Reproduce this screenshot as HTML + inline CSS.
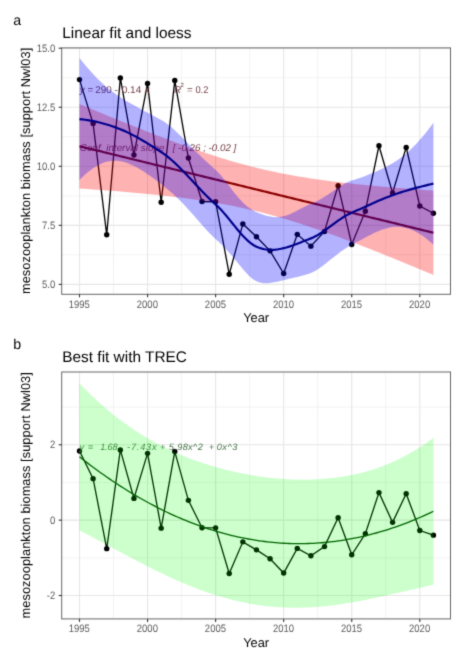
<!DOCTYPE html>
<html><head><meta charset="utf-8"><style>
html,body{margin:0;padding:0;background:#fff;}
svg{display:block;}
text{font-family:"Liberation Sans",sans-serif;text-rendering:geometricPrecision;}
.ax{font-size:10.8px;fill:#5A5A5A;}
.at{font-size:12.8px;fill:#000;}
.ti{font-size:15.4px;fill:#000;}
.tag{font-size:14.2px;fill:#000;}
.an{font-size:9.8px;}
</style></head><body>
<svg width="464" height="662" viewBox="0 0 464 662">
<defs><filter id="bl" x="0" y="0" width="464" height="662" filterUnits="userSpaceOnUse" color-interpolation-filters="sRGB"><feConvolveMatrix order="3" kernelMatrix="0.01917 0.10012 0.01917 0.10012 0.52283 0.10012 0.01917 0.10012 0.01917" divisor="1" edgeMode="duplicate" preserveAlpha="true"/></filter></defs>
<g filter="url(#bl)">
<rect width="464" height="662" fill="#fff"/>
<rect x="61.7" y="48.2" width="388.8" height="246.10000000000002" fill="#fff"/>
<line x1="113.53" x2="113.53" y1="48.2" y2="294.3" stroke="#EBEBEB" stroke-width="0.6"/>
<line x1="181.59" x2="181.59" y1="48.2" y2="294.3" stroke="#EBEBEB" stroke-width="0.6"/>
<line x1="249.65" x2="249.65" y1="48.2" y2="294.3" stroke="#EBEBEB" stroke-width="0.6"/>
<line x1="317.71" x2="317.71" y1="48.2" y2="294.3" stroke="#EBEBEB" stroke-width="0.6"/>
<line x1="385.77" x2="385.77" y1="48.2" y2="294.3" stroke="#EBEBEB" stroke-width="0.6"/>
<line x1="61.7" x2="450.5" y1="77.73" y2="77.73" stroke="#EBEBEB" stroke-width="0.6"/>
<line x1="61.7" x2="450.5" y1="136.78" y2="136.78" stroke="#EBEBEB" stroke-width="0.6"/>
<line x1="61.7" x2="450.5" y1="195.82" y2="195.82" stroke="#EBEBEB" stroke-width="0.6"/>
<line x1="61.7" x2="450.5" y1="254.88" y2="254.88" stroke="#EBEBEB" stroke-width="0.6"/>
<line x1="79.50" x2="79.50" y1="48.2" y2="294.3" stroke="#E6E6E6" stroke-width="1.1"/>
<line x1="147.56" x2="147.56" y1="48.2" y2="294.3" stroke="#E6E6E6" stroke-width="1.1"/>
<line x1="215.62" x2="215.62" y1="48.2" y2="294.3" stroke="#E6E6E6" stroke-width="1.1"/>
<line x1="283.68" x2="283.68" y1="48.2" y2="294.3" stroke="#E6E6E6" stroke-width="1.1"/>
<line x1="351.74" x2="351.74" y1="48.2" y2="294.3" stroke="#E6E6E6" stroke-width="1.1"/>
<line x1="419.80" x2="419.80" y1="48.2" y2="294.3" stroke="#E6E6E6" stroke-width="1.1"/>
<line x1="61.7" x2="450.5" y1="48.20" y2="48.20" stroke="#E6E6E6" stroke-width="1.1"/>
<line x1="61.7" x2="450.5" y1="107.25" y2="107.25" stroke="#E6E6E6" stroke-width="1.1"/>
<line x1="61.7" x2="450.5" y1="166.30" y2="166.30" stroke="#E6E6E6" stroke-width="1.1"/>
<line x1="61.7" x2="450.5" y1="225.35" y2="225.35" stroke="#E6E6E6" stroke-width="1.1"/>
<line x1="61.7" x2="450.5" y1="284.40" y2="284.40" stroke="#E6E6E6" stroke-width="1.1"/>
<polyline points="79.50,79.61 93.11,123.55 106.72,234.80 120.34,77.96 133.95,154.96 147.56,83.39 161.17,202.20 174.78,80.56 188.40,158.03 202.01,201.49 215.62,201.73 229.23,274.24 242.84,223.93 256.46,236.69 270.07,250.86 283.68,273.53 297.29,234.33 310.90,246.14 324.52,231.49 338.13,185.67 351.74,244.48 365.35,211.18 378.96,145.75 392.58,192.99 406.19,147.40 419.80,205.98 433.41,213.30" fill="none" stroke="#000" stroke-width="1.3"/>
<circle cx="79.50" cy="79.61" r="2.7" fill="#000"/>
<circle cx="93.11" cy="123.55" r="2.7" fill="#000"/>
<circle cx="106.72" cy="234.80" r="2.7" fill="#000"/>
<circle cx="120.34" cy="77.96" r="2.7" fill="#000"/>
<circle cx="133.95" cy="154.96" r="2.7" fill="#000"/>
<circle cx="147.56" cy="83.39" r="2.7" fill="#000"/>
<circle cx="161.17" cy="202.20" r="2.7" fill="#000"/>
<circle cx="174.78" cy="80.56" r="2.7" fill="#000"/>
<circle cx="188.40" cy="158.03" r="2.7" fill="#000"/>
<circle cx="202.01" cy="201.49" r="2.7" fill="#000"/>
<circle cx="215.62" cy="201.73" r="2.7" fill="#000"/>
<circle cx="229.23" cy="274.24" r="2.7" fill="#000"/>
<circle cx="242.84" cy="223.93" r="2.7" fill="#000"/>
<circle cx="256.46" cy="236.69" r="2.7" fill="#000"/>
<circle cx="270.07" cy="250.86" r="2.7" fill="#000"/>
<circle cx="283.68" cy="273.53" r="2.7" fill="#000"/>
<circle cx="297.29" cy="234.33" r="2.7" fill="#000"/>
<circle cx="310.90" cy="246.14" r="2.7" fill="#000"/>
<circle cx="324.52" cy="231.49" r="2.7" fill="#000"/>
<circle cx="338.13" cy="185.67" r="2.7" fill="#000"/>
<circle cx="351.74" cy="244.48" r="2.7" fill="#000"/>
<circle cx="365.35" cy="211.18" r="2.7" fill="#000"/>
<circle cx="378.96" cy="145.75" r="2.7" fill="#000"/>
<circle cx="392.58" cy="192.99" r="2.7" fill="#000"/>
<circle cx="406.19" cy="147.40" r="2.7" fill="#000"/>
<circle cx="419.80" cy="205.98" r="2.7" fill="#000"/>
<circle cx="433.41" cy="213.30" r="2.7" fill="#000"/>
<text x="79.8" y="92.6" class="an" fill="#764048" font-style="italic">y</text>
<text x="87.6" y="92.6" class="an" fill="#764048">=</text>
<text x="95.3" y="92.6" class="an" fill="#764048" textLength="16.4" lengthAdjust="spacingAndGlyphs">290</text>
<text x="114.4" y="92.6" class="an" fill="#764048">-</text>
<text x="121.7" y="92.6" class="an" fill="#764048" textLength="19.6" lengthAdjust="spacingAndGlyphs">0.14</text>
<text x="144.8" y="92.6" class="an" fill="#764048" font-style="italic">x</text>
<text x="174.0" y="92.6" class="an" fill="#764048" font-style="italic">R</text>
<text x="180.6" y="87.0" class="an" fill="#764048" style="font-size:6.0px">2</text>
<text x="186.9" y="92.6" class="an" fill="#764048">=</text>
<text x="195.4" y="92.6" class="an" fill="#764048" textLength="13.0" lengthAdjust="spacingAndGlyphs">0.2</text>
<text x="79.8" y="150.9" class="an" fill="#764048" font-style="italic" textLength="84.6" lengthAdjust="spacing">Conf. interval slope</text>
<text x="172.7" y="150.9" class="an" fill="#764048" font-style="italic" textLength="63.6" lengthAdjust="spacingAndGlyphs">[ -0.26 ; -0.02 ]</text>
<polygon points="79.50,103.99 82.22,105.13 84.94,106.28 87.67,107.41 90.39,108.55 93.11,109.68 95.83,110.82 98.56,111.95 101.28,113.07 104.00,114.20 106.72,115.32 109.45,116.44 112.17,117.56 114.89,118.67 117.61,119.78 120.34,120.89 123.06,121.99 125.78,123.09 128.50,124.19 131.23,125.28 133.95,126.37 136.67,127.45 139.39,128.53 142.12,129.61 144.84,130.68 147.56,131.75 150.28,132.81 153.00,133.87 155.73,134.92 158.45,135.97 161.17,137.01 163.89,138.05 166.62,139.07 169.34,140.10 172.06,141.11 174.78,142.12 177.51,143.12 180.23,144.12 182.95,145.11 185.67,146.09 188.40,147.06 191.12,148.02 193.84,148.97 196.56,149.92 199.29,150.85 202.01,151.78 204.73,152.69 207.45,153.60 210.18,154.49 212.90,155.37 215.62,156.25 218.34,157.11 221.06,157.95 223.79,158.79 226.51,159.61 229.23,160.42 231.95,161.22 234.68,162.01 237.40,162.78 240.12,163.53 242.84,164.28 245.57,165.01 248.29,165.72 251.01,166.42 253.73,167.11 256.46,167.78 259.18,168.44 261.90,169.09 264.62,169.72 267.35,170.33 270.07,170.93 272.79,171.52 275.51,172.10 278.24,172.66 280.96,173.20 283.68,173.74 286.40,174.26 289.12,174.76 291.85,175.26 294.57,175.74 297.29,176.21 300.01,176.67 302.74,177.12 305.46,177.56 308.18,177.98 310.90,178.40 313.63,178.81 316.35,179.20 319.07,179.59 321.79,179.97 324.52,180.34 327.24,180.70 329.96,181.05 332.68,181.39 335.41,181.73 338.13,182.06 340.85,182.38 343.57,182.70 346.30,183.00 349.02,183.31 351.74,183.60 354.46,183.89 357.18,184.18 359.91,184.46 362.63,184.73 365.35,185.00 368.07,185.26 370.80,185.52 373.52,185.78 376.24,186.03 378.96,186.27 381.69,186.51 384.41,186.75 387.13,186.99 389.85,187.22 392.58,187.45 395.30,187.67 398.02,187.89 400.74,188.11 403.47,188.32 406.19,188.54 408.91,188.75 411.63,188.95 414.36,189.16 417.08,189.36 419.80,189.56 422.52,189.75 425.24,189.95 427.97,190.14 430.69,190.33 433.41,190.52 433.41,274.99 430.69,273.85 427.97,272.71 425.24,271.57 422.52,270.43 419.80,269.30 417.08,268.17 414.36,267.04 411.63,265.91 408.91,264.78 406.19,263.66 403.47,262.54 400.74,261.43 398.02,260.31 395.30,259.20 392.58,258.10 389.85,256.99 387.13,255.89 384.41,254.80 381.69,253.70 378.96,252.61 376.24,251.53 373.52,250.45 370.80,249.37 368.07,248.30 365.35,247.23 362.63,246.17 359.91,245.11 357.18,244.06 354.46,243.01 351.74,241.97 349.02,240.94 346.30,239.91 343.57,238.89 340.85,237.87 338.13,236.86 335.41,235.86 332.68,234.86 329.96,233.88 327.24,232.90 324.52,231.93 321.79,230.96 319.07,230.01 316.35,229.07 313.63,228.13 310.90,227.21 308.18,226.29 305.46,225.39 302.74,224.49 300.01,223.61 297.29,222.74 294.57,221.88 291.85,221.03 289.12,220.19 286.40,219.37 283.68,218.56 280.96,217.76 278.24,216.98 275.51,216.21 272.79,215.45 270.07,214.70 267.35,213.98 264.62,213.26 261.90,212.56 259.18,211.87 256.46,211.20 253.73,210.54 251.01,209.90 248.29,209.27 245.57,208.65 242.84,208.05 240.12,207.46 237.40,206.89 234.68,206.33 231.95,205.78 229.23,205.25 226.51,204.73 223.79,204.22 221.06,203.72 218.34,203.24 215.62,202.77 212.90,202.31 210.18,201.86 207.45,201.42 204.73,201.00 202.01,200.58 199.29,200.18 196.56,199.78 193.84,199.39 191.12,199.02 188.40,198.65 185.67,198.29 182.95,197.93 180.23,197.59 177.51,197.25 174.78,196.92 172.06,196.60 169.34,196.29 166.62,195.98 163.89,195.68 161.17,195.38 158.45,195.09 155.73,194.81 153.00,194.53 150.28,194.25 147.56,193.98 144.84,193.72 142.12,193.46 139.39,193.21 136.67,192.96 133.95,192.71 131.23,192.47 128.50,192.23 125.78,192.00 123.06,191.76 120.34,191.54 117.61,191.31 114.89,191.09 112.17,190.87 109.45,190.66 106.72,190.45 104.00,190.24 101.28,190.03 98.56,189.83 95.83,189.63 93.11,189.43 90.39,189.23 87.67,189.03 84.94,188.84 82.22,188.65 79.50,188.46" fill="#FF0000" fill-opacity="0.3"/>
<polyline points="79.50,146.23 82.22,146.89 84.94,147.56 87.67,148.22 90.39,148.89 93.11,149.56 95.83,150.22 98.56,150.89 101.28,151.55 104.00,152.22 106.72,152.88 109.45,153.55 112.17,154.21 114.89,154.88 117.61,155.55 120.34,156.21 123.06,156.88 125.78,157.54 128.50,158.21 131.23,158.87 133.95,159.54 136.67,160.20 139.39,160.87 142.12,161.54 144.84,162.20 147.56,162.87 150.28,163.53 153.00,164.20 155.73,164.86 158.45,165.53 161.17,166.20 163.89,166.86 166.62,167.53 169.34,168.19 172.06,168.86 174.78,169.52 177.51,170.19 180.23,170.85 182.95,171.52 185.67,172.19 188.40,172.85 191.12,173.52 193.84,174.18 196.56,174.85 199.29,175.51 202.01,176.18 204.73,176.84 207.45,177.51 210.18,178.18 212.90,178.84 215.62,179.51 218.34,180.17 221.06,180.84 223.79,181.50 226.51,182.17 229.23,182.84 231.95,183.50 234.68,184.17 237.40,184.83 240.12,185.50 242.84,186.16 245.57,186.83 248.29,187.49 251.01,188.16 253.73,188.83 256.46,189.49 259.18,190.16 261.90,190.82 264.62,191.49 267.35,192.15 270.07,192.82 272.79,193.48 275.51,194.15 278.24,194.82 280.96,195.48 283.68,196.15 286.40,196.81 289.12,197.48 291.85,198.14 294.57,198.81 297.29,199.48 300.01,200.14 302.74,200.81 305.46,201.47 308.18,202.14 310.90,202.80 313.63,203.47 316.35,204.13 319.07,204.80 321.79,205.47 324.52,206.13 327.24,206.80 329.96,207.46 332.68,208.13 335.41,208.79 338.13,209.46 340.85,210.12 343.57,210.79 346.30,211.46 349.02,212.12 351.74,212.79 354.46,213.45 357.18,214.12 359.91,214.78 362.63,215.45 365.35,216.12 368.07,216.78 370.80,217.45 373.52,218.11 376.24,218.78 378.96,219.44 381.69,220.11 384.41,220.77 387.13,221.44 389.85,222.11 392.58,222.77 395.30,223.44 398.02,224.10 400.74,224.77 403.47,225.43 406.19,226.10 408.91,226.76 411.63,227.43 414.36,228.10 417.08,228.76 419.80,229.43 422.52,230.09 425.24,230.76 427.97,231.42 430.69,232.09 433.41,232.76" fill="none" stroke="#8B0000" stroke-width="2.2"/>
<polygon points="79.50,58.06 82.22,61.46 84.94,64.76 87.67,67.96 90.39,71.06 93.11,74.04 95.83,76.92 98.56,79.67 101.28,82.30 104.00,84.81 106.72,87.19 109.45,89.45 112.17,91.58 114.89,93.59 117.61,95.49 120.34,97.28 123.06,99.00 125.78,100.65 128.50,102.25 131.23,103.80 133.95,105.32 136.67,106.81 139.39,108.28 142.12,109.74 144.84,111.19 147.56,112.64 150.28,114.09 153.00,115.54 155.73,117.00 158.45,118.47 161.17,119.95 163.89,121.57 166.62,123.44 169.34,125.54 172.06,127.84 174.78,130.30 177.51,132.89 180.23,135.57 182.95,138.31 185.67,141.09 188.40,143.88 191.12,146.66 193.84,149.41 196.56,152.13 199.29,154.80 202.01,157.42 204.73,160.00 207.45,162.53 210.18,165.01 212.90,167.46 215.62,169.88 218.34,172.52 221.06,175.56 223.79,178.91 226.51,182.44 229.23,186.06 231.95,189.66 234.68,193.15 237.40,196.47 240.12,199.56 242.84,202.39 245.57,204.93 248.29,207.17 251.01,209.12 253.73,210.77 256.46,212.14 259.18,213.30 261.90,214.35 264.62,215.26 267.35,216.02 270.07,216.60 272.79,216.99 275.51,217.15 278.24,217.08 280.96,216.77 283.68,216.22 286.40,215.44 289.12,214.45 291.85,213.28 294.57,211.97 297.29,210.56 300.01,209.10 302.74,207.64 305.46,206.24 308.18,204.95 310.90,203.82 313.63,202.70 316.35,201.44 319.07,200.03 321.79,198.51 324.52,196.87 327.24,195.13 329.96,193.32 332.68,191.47 335.41,189.60 338.13,187.76 340.85,185.99 343.57,184.33 346.30,182.85 349.02,181.58 351.74,180.59 354.46,179.72 357.18,178.81 359.91,177.88 362.63,176.91 365.35,175.91 368.07,174.87 370.80,173.80 373.52,172.68 376.24,171.51 378.96,170.29 381.69,169.02 384.41,167.68 387.13,166.27 389.85,164.78 392.58,163.21 395.30,161.53 398.02,159.72 400.74,157.77 403.47,155.67 406.19,153.42 408.91,151.02 411.63,148.46 414.36,145.74 417.08,142.88 419.80,139.86 422.52,136.70 425.24,133.40 427.97,129.96 430.69,126.39 433.41,122.69 433.41,244.68 430.69,242.22 427.97,239.92 425.24,237.78 422.52,235.81 419.80,234.03 417.08,232.42 414.36,231.01 411.63,229.80 408.91,228.79 406.19,227.99 403.47,227.39 400.74,227.01 398.02,226.84 395.30,226.87 392.58,227.10 389.85,227.53 387.13,228.14 384.41,228.92 381.69,229.85 378.96,230.91 376.24,232.07 373.52,233.33 370.80,234.66 368.07,236.05 365.35,237.48 362.63,238.93 359.91,240.40 357.18,241.87 354.46,243.32 351.74,244.75 349.02,246.25 346.30,247.90 343.57,249.70 340.85,251.61 338.13,253.63 335.41,255.73 332.68,257.90 329.96,260.10 327.24,262.30 324.52,264.46 321.79,266.53 319.07,268.48 316.35,270.23 313.63,271.74 310.90,272.95 308.18,273.92 305.46,274.79 302.74,275.57 300.01,276.27 297.29,276.93 294.57,277.56 291.85,278.19 289.12,278.82 286.40,279.47 283.68,280.13 280.96,280.80 278.24,281.45 275.51,282.06 272.79,282.58 270.07,282.98 267.35,283.20 264.62,283.19 261.90,282.90 259.18,282.27 256.46,281.26 253.73,279.73 251.01,277.63 248.29,275.08 245.57,272.18 242.84,269.03 240.12,265.75 237.40,262.41 234.68,259.09 231.95,255.84 229.23,252.70 226.51,249.69 223.79,246.82 221.06,244.08 218.34,241.47 215.62,239.01 212.90,236.50 210.18,233.80 207.45,230.94 204.73,227.96 202.01,224.89 199.29,221.78 196.56,218.64 193.84,215.52 191.12,212.44 188.40,209.41 185.67,206.46 182.95,203.59 180.23,200.82 177.51,198.14 174.78,195.56 172.06,193.08 169.34,190.70 166.62,188.41 163.89,186.21 161.17,184.11 158.45,182.07 155.73,180.05 153.00,178.06 150.28,176.11 147.56,174.20 144.84,172.37 142.12,170.60 139.39,168.93 136.67,167.37 133.95,165.93 131.23,164.63 128.50,163.49 125.78,162.52 123.06,161.74 120.34,161.17 117.61,160.83 114.89,160.71 112.17,160.82 109.45,161.17 106.72,161.76 104.00,162.58 101.28,163.64 98.56,164.94 95.83,166.46 93.11,168.21 90.39,170.17 87.67,172.34 84.94,174.72 82.22,177.29 79.50,180.05" fill="#0000FF" fill-opacity="0.3"/>
<polyline points="79.50,119.06 82.22,119.38 84.94,119.74 87.67,120.15 90.39,120.61 93.11,121.13 95.83,121.69 98.56,122.30 101.28,122.97 104.00,123.70 106.72,124.47 109.45,125.31 112.17,126.20 114.89,127.15 117.61,128.16 120.34,129.23 123.06,130.37 125.78,131.58 128.50,132.87 131.23,134.22 133.95,135.63 136.67,137.09 139.39,138.61 142.12,140.17 144.84,141.78 147.56,143.42 150.28,145.10 153.00,146.80 155.73,148.53 158.45,150.27 161.17,152.03 163.89,153.89 166.62,155.92 169.34,158.12 172.06,160.46 174.78,162.93 177.51,165.51 180.23,168.19 182.95,170.95 185.67,173.78 188.40,176.65 191.12,179.55 193.84,182.47 196.56,185.39 199.29,188.29 202.01,191.16 204.73,193.98 207.45,196.73 210.18,199.40 212.90,201.98 215.62,204.44 218.34,207.00 221.06,209.82 223.79,212.86 226.51,216.07 229.23,219.38 231.95,222.75 234.68,226.12 237.40,229.44 240.12,232.66 242.84,235.71 245.57,238.55 248.29,241.12 251.01,243.38 253.73,245.25 256.46,246.70 259.18,247.79 261.90,248.62 264.62,249.23 267.35,249.61 270.07,249.79 272.79,249.79 275.51,249.61 278.24,249.27 280.96,248.79 283.68,248.18 286.40,247.46 289.12,246.64 291.85,245.73 294.57,244.76 297.29,243.74 300.01,242.68 302.74,241.60 305.46,240.52 308.18,239.44 310.90,238.38 313.63,237.22 316.35,235.83 319.07,234.25 321.79,232.52 324.52,230.66 327.24,228.71 329.96,226.71 332.68,224.68 335.41,222.67 338.13,220.69 340.85,218.80 343.57,217.02 346.30,215.38 349.02,213.92 351.74,212.67 354.46,211.52 357.18,210.34 359.91,209.14 362.63,207.92 365.35,206.69 368.07,205.46 370.80,204.23 373.52,203.00 376.24,201.79 378.96,200.60 381.69,199.43 384.41,198.30 387.13,197.21 389.85,196.16 392.58,195.16 395.30,194.20 398.02,193.28 400.74,192.39 403.47,191.53 406.19,190.70 408.91,189.90 411.63,189.13 414.36,188.38 417.08,187.65 419.80,186.94 422.52,186.26 425.24,185.59 427.97,184.94 430.69,184.30 433.41,183.68" fill="none" stroke="#00008B" stroke-width="2.2"/>
<rect x="61.7" y="47.900000000000006" width="388.8" height="246.40000000000003" fill="none" stroke="#666" stroke-width="1.0"/>
<line x1="58.7" x2="61.7" y1="48.20" y2="48.20" stroke="#333" stroke-width="1.1"/>
<text transform="translate(55.20,51.80) scale(0.88,1)" text-anchor="end" class="ax">15.0</text>
<line x1="58.7" x2="61.7" y1="107.25" y2="107.25" stroke="#333" stroke-width="1.1"/>
<text transform="translate(55.20,110.85) scale(0.88,1)" text-anchor="end" class="ax">12.5</text>
<line x1="58.7" x2="61.7" y1="166.30" y2="166.30" stroke="#333" stroke-width="1.1"/>
<text transform="translate(55.20,169.90) scale(0.88,1)" text-anchor="end" class="ax">10.0</text>
<line x1="58.7" x2="61.7" y1="225.35" y2="225.35" stroke="#333" stroke-width="1.1"/>
<text transform="translate(55.20,228.95) scale(0.88,1)" text-anchor="end" class="ax">7.5</text>
<line x1="58.7" x2="61.7" y1="284.40" y2="284.40" stroke="#333" stroke-width="1.1"/>
<text transform="translate(55.20,288.00) scale(0.88,1)" text-anchor="end" class="ax">5.0</text>
<line x1="79.50" x2="79.50" y1="294.3" y2="297.3" stroke="#333" stroke-width="1.1"/>
<text transform="translate(79.30,307.80) scale(0.88,1)" text-anchor="middle" class="ax">1995</text>
<line x1="147.56" x2="147.56" y1="294.3" y2="297.3" stroke="#333" stroke-width="1.1"/>
<text transform="translate(147.36,307.80) scale(0.88,1)" text-anchor="middle" class="ax">2000</text>
<line x1="215.62" x2="215.62" y1="294.3" y2="297.3" stroke="#333" stroke-width="1.1"/>
<text transform="translate(215.42,307.80) scale(0.88,1)" text-anchor="middle" class="ax">2005</text>
<line x1="283.68" x2="283.68" y1="294.3" y2="297.3" stroke="#333" stroke-width="1.1"/>
<text transform="translate(283.48,307.80) scale(0.88,1)" text-anchor="middle" class="ax">2010</text>
<line x1="351.74" x2="351.74" y1="294.3" y2="297.3" stroke="#333" stroke-width="1.1"/>
<text transform="translate(351.54,307.80) scale(0.88,1)" text-anchor="middle" class="ax">2015</text>
<line x1="419.80" x2="419.80" y1="294.3" y2="297.3" stroke="#333" stroke-width="1.1"/>
<text transform="translate(419.60,307.80) scale(0.88,1)" text-anchor="middle" class="ax">2020</text>
<text x="256.10" y="322.10" text-anchor="middle" class="at">Year</text>
<text transform="translate(30.1,170.95) rotate(-90)" x="-123.15" y="0" textLength="246.3" lengthAdjust="spacing" class="at">mesozooplankton biomass [support Nwl03]</text>
<rect x="61.7" y="372.3" width="388.8" height="246.59999999999997" fill="#fff"/>
<line x1="113.53" x2="113.53" y1="372.3" y2="618.9" stroke="#EBEBEB" stroke-width="0.6"/>
<line x1="181.59" x2="181.59" y1="372.3" y2="618.9" stroke="#EBEBEB" stroke-width="0.6"/>
<line x1="249.65" x2="249.65" y1="372.3" y2="618.9" stroke="#EBEBEB" stroke-width="0.6"/>
<line x1="317.71" x2="317.71" y1="372.3" y2="618.9" stroke="#EBEBEB" stroke-width="0.6"/>
<line x1="385.77" x2="385.77" y1="372.3" y2="618.9" stroke="#EBEBEB" stroke-width="0.6"/>
<line x1="61.7" x2="450.5" y1="407.11" y2="407.11" stroke="#EBEBEB" stroke-width="0.6"/>
<line x1="61.7" x2="450.5" y1="482.47" y2="482.47" stroke="#EBEBEB" stroke-width="0.6"/>
<line x1="61.7" x2="450.5" y1="557.83" y2="557.83" stroke="#EBEBEB" stroke-width="0.6"/>
<line x1="79.50" x2="79.50" y1="372.3" y2="618.9" stroke="#E6E6E6" stroke-width="1.1"/>
<line x1="147.56" x2="147.56" y1="372.3" y2="618.9" stroke="#E6E6E6" stroke-width="1.1"/>
<line x1="215.62" x2="215.62" y1="372.3" y2="618.9" stroke="#E6E6E6" stroke-width="1.1"/>
<line x1="283.68" x2="283.68" y1="372.3" y2="618.9" stroke="#E6E6E6" stroke-width="1.1"/>
<line x1="351.74" x2="351.74" y1="372.3" y2="618.9" stroke="#E6E6E6" stroke-width="1.1"/>
<line x1="419.80" x2="419.80" y1="372.3" y2="618.9" stroke="#E6E6E6" stroke-width="1.1"/>
<line x1="61.7" x2="450.5" y1="444.79" y2="444.79" stroke="#E6E6E6" stroke-width="1.1"/>
<line x1="61.7" x2="450.5" y1="520.15" y2="520.15" stroke="#E6E6E6" stroke-width="1.1"/>
<line x1="61.7" x2="450.5" y1="595.51" y2="595.51" stroke="#E6E6E6" stroke-width="1.1"/>
<polyline points="79.50,450.97 93.11,478.63 106.72,548.67 120.34,449.93 133.95,498.41 147.56,453.35 161.17,528.15 174.78,451.57 188.40,500.34 202.01,527.71 215.62,527.86 229.23,573.51 242.84,541.83 256.46,549.86 270.07,558.79 283.68,573.06 297.29,548.38 310.90,555.81 324.52,546.59 338.13,517.74 351.74,554.77 365.35,533.80 378.96,492.61 392.58,522.35 406.19,493.65 419.80,530.53 433.41,535.14" fill="none" stroke="#000" stroke-width="1.3"/>
<circle cx="79.50" cy="450.97" r="2.7" fill="#000"/>
<circle cx="93.11" cy="478.63" r="2.7" fill="#000"/>
<circle cx="106.72" cy="548.67" r="2.7" fill="#000"/>
<circle cx="120.34" cy="449.93" r="2.7" fill="#000"/>
<circle cx="133.95" cy="498.41" r="2.7" fill="#000"/>
<circle cx="147.56" cy="453.35" r="2.7" fill="#000"/>
<circle cx="161.17" cy="528.15" r="2.7" fill="#000"/>
<circle cx="174.78" cy="451.57" r="2.7" fill="#000"/>
<circle cx="188.40" cy="500.34" r="2.7" fill="#000"/>
<circle cx="202.01" cy="527.71" r="2.7" fill="#000"/>
<circle cx="215.62" cy="527.86" r="2.7" fill="#000"/>
<circle cx="229.23" cy="573.51" r="2.7" fill="#000"/>
<circle cx="242.84" cy="541.83" r="2.7" fill="#000"/>
<circle cx="256.46" cy="549.86" r="2.7" fill="#000"/>
<circle cx="270.07" cy="558.79" r="2.7" fill="#000"/>
<circle cx="283.68" cy="573.06" r="2.7" fill="#000"/>
<circle cx="297.29" cy="548.38" r="2.7" fill="#000"/>
<circle cx="310.90" cy="555.81" r="2.7" fill="#000"/>
<circle cx="324.52" cy="546.59" r="2.7" fill="#000"/>
<circle cx="338.13" cy="517.74" r="2.7" fill="#000"/>
<circle cx="351.74" cy="554.77" r="2.7" fill="#000"/>
<circle cx="365.35" cy="533.80" r="2.7" fill="#000"/>
<circle cx="378.96" cy="492.61" r="2.7" fill="#000"/>
<circle cx="392.58" cy="522.35" r="2.7" fill="#000"/>
<circle cx="406.19" cy="493.65" r="2.7" fill="#000"/>
<circle cx="419.80" cy="530.53" r="2.7" fill="#000"/>
<circle cx="433.41" cy="535.14" r="2.7" fill="#000"/>
<text x="79.60000000000001" y="449.6" class="an" fill="#4A784A" font-style="italic" style="font-size:9.2px">y</text>
<text x="88.0" y="449.6" class="an" fill="#4A784A" style="font-size:9.2px">=</text>
<text x="100.2" y="449.6" class="an" fill="#4A784A" font-style="italic" textLength="17.3" lengthAdjust="spacing" style="font-size:9.2px">1.68</text>
<text x="127.1" y="449.6" class="an" fill="#4A784A" font-style="italic" textLength="29.4" lengthAdjust="spacing" style="font-size:9.2px">-7.43x</text>
<text x="160.1" y="449.6" class="an" fill="#4A784A" font-style="italic" style="font-size:9.2px">+</text>
<text x="168.8" y="449.6" class="an" fill="#4A784A" font-style="italic" textLength="34.0" lengthAdjust="spacing" style="font-size:9.2px">5.98x^2</text>
<text x="208.7" y="449.6" class="an" fill="#4A784A" font-style="italic" style="font-size:9.2px">+</text>
<text x="216.7" y="449.6" class="an" fill="#4A784A" font-style="italic" textLength="20.7" lengthAdjust="spacing" style="font-size:9.2px">0x^3</text>
<polygon points="79.50,383.33 82.22,386.17 84.94,388.96 87.67,391.69 90.39,394.36 93.11,396.97 95.83,399.53 98.56,402.03 101.28,404.47 104.00,406.86 106.72,409.20 109.45,411.48 112.17,413.71 114.89,415.89 117.61,418.01 120.34,420.09 123.06,422.11 125.78,424.09 128.50,426.01 131.23,427.89 133.95,429.72 136.67,431.51 139.39,433.25 142.12,434.95 144.84,436.61 147.56,438.22 150.28,439.79 153.00,441.32 155.73,442.81 158.45,444.26 161.17,445.68 163.89,447.05 166.62,448.39 169.34,449.70 172.06,450.96 174.78,452.20 177.51,453.40 180.23,454.57 182.95,455.70 185.67,456.81 188.40,457.88 191.12,458.92 193.84,459.94 196.56,460.92 199.29,461.88 202.01,462.80 204.73,463.70 207.45,464.57 210.18,465.42 212.90,466.24 215.62,467.03 218.34,467.80 221.06,468.54 223.79,469.25 226.51,469.94 229.23,470.61 231.95,471.25 234.68,471.87 237.40,472.47 240.12,473.04 242.84,473.58 245.57,474.11 248.29,474.61 251.01,475.08 253.73,475.54 256.46,475.97 259.18,476.38 261.90,476.76 264.62,477.12 267.35,477.46 270.07,477.77 272.79,478.06 275.51,478.33 278.24,478.58 280.96,478.80 283.68,478.99 286.40,479.16 289.12,479.31 291.85,479.43 294.57,479.53 297.29,479.60 300.01,479.65 302.74,479.67 305.46,479.66 308.18,479.63 310.90,479.56 313.63,479.48 316.35,479.36 319.07,479.21 321.79,479.04 324.52,478.83 327.24,478.60 329.96,478.33 332.68,478.04 335.41,477.71 338.13,477.34 340.85,476.95 343.57,476.52 346.30,476.05 349.02,475.55 351.74,475.01 354.46,474.43 357.18,473.82 359.91,473.17 362.63,472.48 365.35,471.74 368.07,470.97 370.80,470.15 373.52,469.29 376.24,468.39 378.96,467.44 381.69,466.44 384.41,465.40 387.13,464.31 389.85,463.18 392.58,461.99 395.30,460.76 398.02,459.47 400.74,458.13 403.47,456.74 406.19,455.30 408.91,453.80 411.63,452.25 414.36,450.64 417.08,448.98 419.80,447.26 422.52,445.48 425.24,443.65 427.97,441.76 430.69,439.81 433.41,437.80 433.41,584.75 430.69,585.34 427.97,585.94 425.24,586.55 422.52,587.16 419.80,587.77 417.08,588.39 414.36,589.01 411.63,589.63 408.91,590.25 406.19,590.88 403.47,591.50 400.74,592.13 398.02,592.75 395.30,593.37 392.58,593.99 389.85,594.61 387.13,595.22 384.41,595.83 381.69,596.43 378.96,597.02 376.24,597.61 373.52,598.18 370.80,598.75 368.07,599.31 365.35,599.86 362.63,600.40 359.91,600.92 357.18,601.43 354.46,601.92 351.74,602.40 349.02,602.87 346.30,603.31 343.57,603.74 340.85,604.15 338.13,604.55 335.41,604.92 332.68,605.27 329.96,605.60 327.24,605.91 324.52,606.20 321.79,606.46 319.07,606.70 316.35,606.92 313.63,607.11 310.90,607.28 308.18,607.42 305.46,607.53 302.74,607.62 300.01,607.68 297.29,607.72 294.57,607.72 291.85,607.70 289.12,607.65 286.40,607.58 283.68,607.47 280.96,607.33 278.24,607.17 275.51,606.97 272.79,606.75 270.07,606.50 267.35,606.21 264.62,605.90 261.90,605.55 259.18,605.18 256.46,604.78 253.73,604.34 251.01,603.88 248.29,603.38 245.57,602.86 242.84,602.31 240.12,601.72 237.40,601.11 234.68,600.46 231.95,599.79 229.23,599.09 226.51,598.36 223.79,597.60 221.06,596.81 218.34,595.99 215.62,595.15 212.90,594.27 210.18,593.37 207.45,592.45 204.73,591.49 202.01,590.51 199.29,589.51 196.56,588.48 193.84,587.43 191.12,586.35 188.40,585.24 185.67,584.12 182.95,582.97 180.23,581.80 177.51,580.61 174.78,579.40 172.06,578.17 169.34,576.92 166.62,575.66 163.89,574.37 161.17,573.07 158.45,571.75 155.73,570.42 153.00,569.07 150.28,567.71 147.56,566.33 144.84,564.95 142.12,563.55 139.39,562.15 136.67,560.73 133.95,559.31 131.23,557.87 128.50,556.43 125.78,554.99 123.06,553.54 120.34,552.09 117.61,550.63 114.89,549.17 112.17,547.71 109.45,546.24 106.72,544.78 104.00,543.32 101.28,541.86 98.56,540.40 95.83,538.94 93.11,537.48 90.39,536.03 87.67,534.59 84.94,533.14 82.22,531.71 79.50,530.27" fill="#00FF00" fill-opacity="0.2"/>
<polyline points="79.50,456.80 82.22,458.94 84.94,461.05 87.67,463.14 90.39,465.20 93.11,467.23 95.83,469.23 98.56,471.21 101.28,473.17 104.00,475.09 106.72,476.99 109.45,478.86 112.17,480.71 114.89,482.53 117.61,484.32 120.34,486.09 123.06,487.82 125.78,489.54 128.50,491.22 131.23,492.88 133.95,494.51 136.67,496.12 139.39,497.70 142.12,499.25 144.84,500.78 147.56,502.28 150.28,503.75 153.00,505.19 155.73,506.61 158.45,508.01 161.17,509.37 163.89,510.71 166.62,512.02 169.34,513.31 172.06,514.57 174.78,515.80 177.51,517.01 180.23,518.19 182.95,519.34 185.67,520.46 188.40,521.56 191.12,522.64 193.84,523.68 196.56,524.70 199.29,525.69 202.01,526.66 204.73,527.60 207.45,528.51 210.18,529.40 212.90,530.25 215.62,531.09 218.34,531.89 221.06,532.67 223.79,533.42 226.51,534.15 229.23,534.85 231.95,535.52 234.68,536.17 237.40,536.79 240.12,537.38 242.84,537.94 245.57,538.48 248.29,539.00 251.01,539.48 253.73,539.94 256.46,540.37 259.18,540.78 261.90,541.16 264.62,541.51 267.35,541.84 270.07,542.13 272.79,542.41 275.51,542.65 278.24,542.87 280.96,543.06 283.68,543.23 286.40,543.37 289.12,543.48 291.85,543.57 294.57,543.63 297.29,543.66 300.01,543.66 302.74,543.64 305.46,543.60 308.18,543.52 310.90,543.42 313.63,543.29 316.35,543.14 319.07,542.96 321.79,542.75 324.52,542.52 327.24,542.25 329.96,541.97 332.68,541.65 335.41,541.31 338.13,540.94 340.85,540.55 343.57,540.13 346.30,539.68 349.02,539.21 351.74,538.71 354.46,538.18 357.18,537.62 359.91,537.04 362.63,536.44 365.35,535.80 368.07,535.14 370.80,534.45 373.52,533.74 376.24,533.00 378.96,532.23 381.69,531.44 384.41,530.61 387.13,529.77 389.85,528.89 392.58,527.99 395.30,527.06 398.02,526.11 400.74,525.13 403.47,524.12 406.19,523.09 408.91,522.03 411.63,520.94 414.36,519.82 417.08,518.68 419.80,517.51 422.52,516.32 425.24,515.10 427.97,513.85 430.69,512.58 433.41,511.28" fill="none" stroke="#006400" stroke-width="1.3"/>
<rect x="61.7" y="372.0" width="388.8" height="246.89999999999998" fill="none" stroke="#666" stroke-width="1.0"/>
<line x1="58.7" x2="61.7" y1="444.79" y2="444.79" stroke="#333" stroke-width="1.1"/>
<text transform="translate(55.20,448.39) scale(0.88,1)" text-anchor="end" class="ax">2</text>
<line x1="58.7" x2="61.7" y1="520.15" y2="520.15" stroke="#333" stroke-width="1.1"/>
<text transform="translate(55.20,523.75) scale(0.88,1)" text-anchor="end" class="ax">0</text>
<line x1="58.7" x2="61.7" y1="595.51" y2="595.51" stroke="#333" stroke-width="1.1"/>
<text transform="translate(55.20,599.11) scale(0.88,1)" text-anchor="end" class="ax">-2</text>
<line x1="79.50" x2="79.50" y1="618.9" y2="621.9" stroke="#333" stroke-width="1.1"/>
<text transform="translate(79.30,632.40) scale(0.88,1)" text-anchor="middle" class="ax">1995</text>
<line x1="147.56" x2="147.56" y1="618.9" y2="621.9" stroke="#333" stroke-width="1.1"/>
<text transform="translate(147.36,632.40) scale(0.88,1)" text-anchor="middle" class="ax">2000</text>
<line x1="215.62" x2="215.62" y1="618.9" y2="621.9" stroke="#333" stroke-width="1.1"/>
<text transform="translate(215.42,632.40) scale(0.88,1)" text-anchor="middle" class="ax">2005</text>
<line x1="283.68" x2="283.68" y1="618.9" y2="621.9" stroke="#333" stroke-width="1.1"/>
<text transform="translate(283.48,632.40) scale(0.88,1)" text-anchor="middle" class="ax">2010</text>
<line x1="351.74" x2="351.74" y1="618.9" y2="621.9" stroke="#333" stroke-width="1.1"/>
<text transform="translate(351.54,632.40) scale(0.88,1)" text-anchor="middle" class="ax">2015</text>
<line x1="419.80" x2="419.80" y1="618.9" y2="621.9" stroke="#333" stroke-width="1.1"/>
<text transform="translate(419.60,632.40) scale(0.88,1)" text-anchor="middle" class="ax">2020</text>
<text x="256.10" y="646.70" text-anchor="middle" class="at">Year</text>
<text transform="translate(30.1,495.30) rotate(-90)" x="-123.15" y="0" textLength="246.3" lengthAdjust="spacing" class="at">mesozooplankton biomass [support Nwl03]</text>
<text x="13.3" y="24.9" class="tag">a</text>
<text x="13.3" y="349.4" class="tag">b</text>
<text x="62.3" y="37.9" class="ti">Linear fit and loess</text>
<text x="62.3" y="362.2" class="ti">Best fit with TREC</text>
</g>
</svg></body></html>
